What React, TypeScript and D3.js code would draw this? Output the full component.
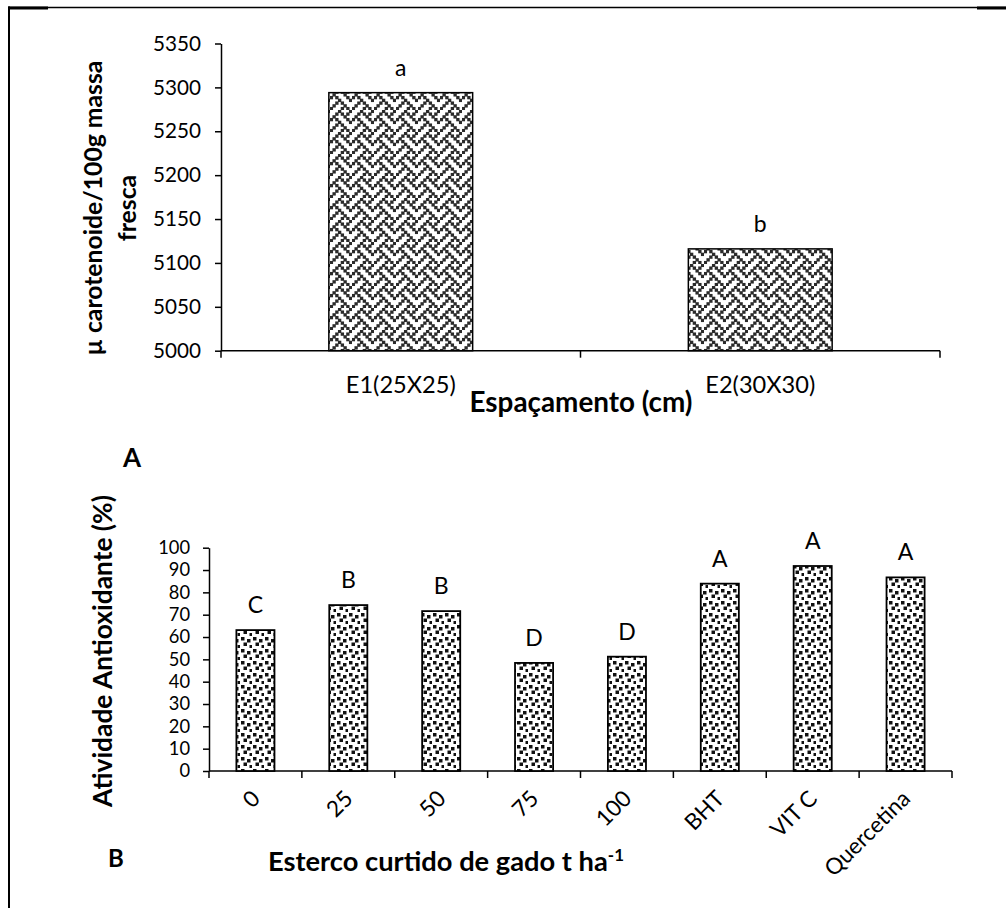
import React, { useEffect, useRef } from 'react';
import * as d3 from 'd3';

// Chart A - carotenoids by spacing
const spacingCats = ['E1(25X25)', 'E2(30X30)'];
const caroteneValues = [5294, 5116];
const caroteneLetters = ['a', 'b'];
const caroteneTicks = [5000, 5050, 5100, 5150, 5200, 5250, 5300, 5350];

// Chart B - antioxidant activity by manure dose
const manureCats = ['0', '25', '50', '75', '100', 'BHT', 'VIT C', 'Quercetina'];
const antioxValues = [63.1, 74.3, 71.6, 48.4, 51.2, 83.9, 91.8, 86.7];
const antioxLetters = ['C', 'B', 'B', 'D', 'D', 'A', 'A', 'A'];
const antioxTicks = [0, 10, 20, 30, 40, 50, 60, 70, 80, 90, 100];

const FONT = 'Lato, "Open Sans", sans-serif';
const WEAVE_BITS = [0x11, 0x2a, 0x44, 0xa2, 0x11, 0x28, 0x44, 0x8a];
const DOTS = [[1, 1], [7, 3], [3.5, 6.5], [9.5, 9]];

// scale a text's font so its rendered width hits the target width
const fitWidth = (el: any, target: number) => {
  const node = el.node();
  if (!node || !node.getComputedTextLength) return 20;
  const size = parseFloat(el.style('font-size'));
  const w = node.getComputedTextLength();
  return w > 0 ? (size * target) / w : size;
};

const App = () => {
  const svgRef = useRef<SVGSVGElement>(null);

  useEffect(() => {
    if (!svgRef.current) return;
    const svg = d3.select(svgRef.current);
    svg.selectAll('*').remove();

    // patterns
    const defs = svg.append('defs');
    const px = 2.75;
    const weave = defs.append('pattern')
      .attr('id', 'weave')
      .attr('patternUnits', 'userSpaceOnUse')
      .attr('width', 8 * px)
      .attr('height', 8 * px);
    weave.append('rect').attr('width', 8 * px).attr('height', 8 * px).attr('fill', '#fff');
    WEAVE_BITS.forEach((row, r) => {
      for (let c = 0; c < 8; c++) {
        if (row & (0x80 >> c)) {
          weave.append('rect')
            .attr('x', c * px - 0.3).attr('y', r * px - 0.3)
            .attr('width', px + 0.6).attr('height', px + 0.6)
            .attr('fill', '#2a2a2a');
        }
      }
    });

    const dots = defs.append('pattern')
      .attr('id', 'dots')
      .attr('patternUnits', 'userSpaceOnUse')
      .attr('width', 12)
      .attr('height', 12);
    dots.append('rect').attr('width', 12).attr('height', 12).attr('fill', '#fff');
    DOTS.forEach(([x, y]) => {
      dots.append('rect').attr('x', x).attr('y', y).attr('width', 3.5).attr('height', 3.5).attr('fill', '#111');
    });

    // frame lines
    svg.append('line').attr('x1', 9).attr('x2', 1006).attr('y1', 7.5).attr('y2', 7.5)
      .attr('stroke', '#000').attr('stroke-width', 1.5);
    svg.append('rect').attr('x', 8).attr('y', 6.5).attr('width', 40).attr('height', 3).attr('fill', '#000');
    svg.append('rect').attr('x', 977).attr('y', 6.5).attr('width', 29).attr('height', 3).attr('fill', '#000');
    svg.append('line').attr('x1', 9).attr('x2', 9).attr('y1', 6.5).attr('y2', 908)
      .attr('stroke', '#000').attr('stroke-width', 2);

    // ---------- Chart A ----------
    const gA = svg.append('g');
    const yA = d3.scaleLinear().domain([5000, 5350]).range([350.7, 43.5]);
    const xA = d3.scaleBand().domain(spacingCats).range([221, 940]).paddingInner(0.6).paddingOuter(0.3);

    const axA = gA.append('g')
      .attr('transform', 'translate(221,0)')
      .call(d3.axisLeft(yA).tickValues(caroteneTicks).tickSize(6).tickSizeOuter(0).tickPadding(14).tickFormat(d3.format('d')));
    const tickTextA = axA.selectAll('text').style('font-size', '20px').style('font-family', FONT).attr('fill', '#000');
    tickTextA.style('font-size', `${fitWidth(d3.select(tickTextA.nodes()[tickTextA.size() - 1]), 48)}px`);
    axA.selectAll('line, path').attr('stroke', '#000').attr('stroke-width', 1.5);

    gA.append('line').attr('x1', 221).attr('x2', 940).attr('y1', yA(5000)).attr('y2', yA(5000))
      .attr('stroke', '#000').attr('stroke-width', 1.5);
    d3.range(spacingCats.length + 1).forEach(i => {
      const x = 221 + i * xA.step();
      gA.append('line').attr('x1', x).attr('x2', x).attr('y1', yA(5000)).attr('y2', yA(5000) + 7)
        .attr('stroke', '#000').attr('stroke-width', 1.5);
    });

    gA.selectAll('.barA')
      .data(caroteneValues)
      .join('rect')
      .attr('x', (d, i) => xA(spacingCats[i]))
      .attr('y', d => yA(d))
      .attr('width', xA.bandwidth())
      .attr('height', d => yA(5000) - yA(d))
      .attr('fill', 'url(#weave)')
      .attr('stroke', '#000')
      .attr('stroke-width', 1.5);

    gA.selectAll('.letterA')
      .data(caroteneValues)
      .join('text')
      .attr('x', (d, i) => xA(spacingCats[i]) + xA.bandwidth() / 2)
      .attr('y', d => yA(d) - 17)
      .attr('text-anchor', 'middle')
      .style('font-family', FONT)
      .style('font-size', '23px')
      .text((d, i) => caroteneLetters[i]);

    const catA = gA.selectAll('.catA')
      .data(spacingCats)
      .join('text')
      .attr('x', d => xA(d) + xA.bandwidth() / 2)
      .attr('y', 393)
      .attr('text-anchor', 'middle')
      .style('font-family', FONT)
      .style('font-size', '21px')
      .text(d => d);
    catA.style('font-size', `${fitWidth(d3.select(catA.nodes()[1]), 110)}px`);

    const titleAx = gA.append('text')
      .attr('x', 581).attr('y', 412)
      .attr('text-anchor', 'middle')
      .style('font-family', FONT).style('font-size', '22px').style('font-weight', 'bold')
      .text('Espaçamento (cm)');
    titleAx.style('font-size', `${fitWidth(titleAx, 223)}px`);

    const titleA = gA.append('text')
      .attr('transform', 'translate(102,208) rotate(-90)')
      .attr('text-anchor', 'middle')
      .style('font-family', FONT).style('font-size', '22px').style('font-weight', 'bold');
    const lineA1 = titleA.append('tspan').attr('x', 0).attr('y', 0).text('µ carotenoide/100g massa');
    titleA.append('tspan').attr('x', 0).attr('y', 34).text('fresca');
    titleA.style('font-size', `${fitWidth(lineA1, 295)}px`);

    gA.append('text')
      .attr('x', 123).attr('y', 467)
      .style('font-family', FONT).style('font-size', '26px').style('font-weight', 'bold')
      .text('A');

    // ---------- Chart B ----------
    const gB = svg.append('g');
    const yB = d3.scaleLinear().domain([0, 100]).range([771, 547.7]);
    const xB = d3.scaleBand().domain(manureCats).range([209, 952]).paddingInner(0.59).paddingOuter(0.295);

    const axB = gB.append('g')
      .attr('transform', 'translate(209,0)')
      .call(d3.axisLeft(yB).tickValues(antioxTicks).tickSize(6).tickSizeOuter(0).tickPadding(13));
    axB.selectAll('text').style('font-size', '18.3px').style('font-family', FONT).attr('fill', '#000');
    axB.selectAll('line, path').attr('stroke', '#000').attr('stroke-width', 1.5);

    gB.append('line').attr('x1', 209).attr('x2', 952).attr('y1', yB(0)).attr('y2', yB(0))
      .attr('stroke', '#000').attr('stroke-width', 1.5);
    d3.range(manureCats.length + 1).forEach(i => {
      const x = 209 + i * xB.step();
      gB.append('line').attr('x1', x).attr('x2', x).attr('y1', yB(0)).attr('y2', yB(0) + 7)
        .attr('stroke', '#000').attr('stroke-width', 1.5);
    });

    gB.selectAll('.barB')
      .data(antioxValues)
      .join('rect')
      .attr('x', (d, i) => xB(manureCats[i]))
      .attr('y', d => yB(d))
      .attr('width', xB.bandwidth())
      .attr('height', d => yB(0) - yB(d))
      .attr('fill', 'url(#dots)')
      .attr('stroke', '#000')
      .attr('stroke-width', 1.8);

    gB.selectAll('.letterB')
      .data(antioxValues)
      .join('text')
      .attr('x', (d, i) => xB(manureCats[i]) + xB.bandwidth() / 2)
      .attr('y', d => yB(d) - 17)
      .attr('text-anchor', 'middle')
      .style('font-family', FONT)
      .style('font-size', '23px')
      .text((d, i) => antioxLetters[i]);

    const catB = gB.selectAll('.catB')
      .data(manureCats)
      .join('text')
      .attr('transform', d => `translate(${xB(d) + xB.bandwidth() / 2 + 6},${yB(0) + 29}) rotate(-45)`)
      .attr('text-anchor', 'end')
      .style('font-family', FONT)
      .style('font-size', '20px')
      .text(d => d);
    catB.style('font-size', `${fitWidth(d3.select(catB.nodes()[manureCats.length - 1]), 110)}px`);

    const titleBx = gB.append('text')
      .attr('x', 268).attr('y', 871)
      .style('font-family', FONT).style('font-size', '22px').style('font-weight', 'bold');
    const mainBx = titleBx.append('tspan').text('Esterco curtido de gado t ha');
    const sizeBx = fitWidth(mainBx, 340);
    titleBx.style('font-size', `${sizeBx}px`);
    titleBx.append('tspan').attr('dy', -sizeBx * 0.38).style('font-size', `${sizeBx * 0.62}px`).text('-1');

    const titleBy = gB.append('text')
      .attr('transform', 'translate(112,651) rotate(-90)')
      .attr('text-anchor', 'middle')
      .style('font-family', FONT).style('font-size', '22px').style('font-weight', 'bold')
      .text('Atividade Antioxidante (%)');
    titleBy.style('font-size', `${fitWidth(titleBy, 312)}px`);

    gB.append('text')
      .attr('x', 108).attr('y', 867)
      .style('font-family', FONT).style('font-size', '24px').style('font-weight', 'bold')
      .text('B');
  }, []);

  return (
    <svg
      ref={svgRef}
      width={1006}
      height={908}
      style={{ position: 'absolute', left: 0, top: 0, background: '#fff' }}
    />
  );
};

export default App;
